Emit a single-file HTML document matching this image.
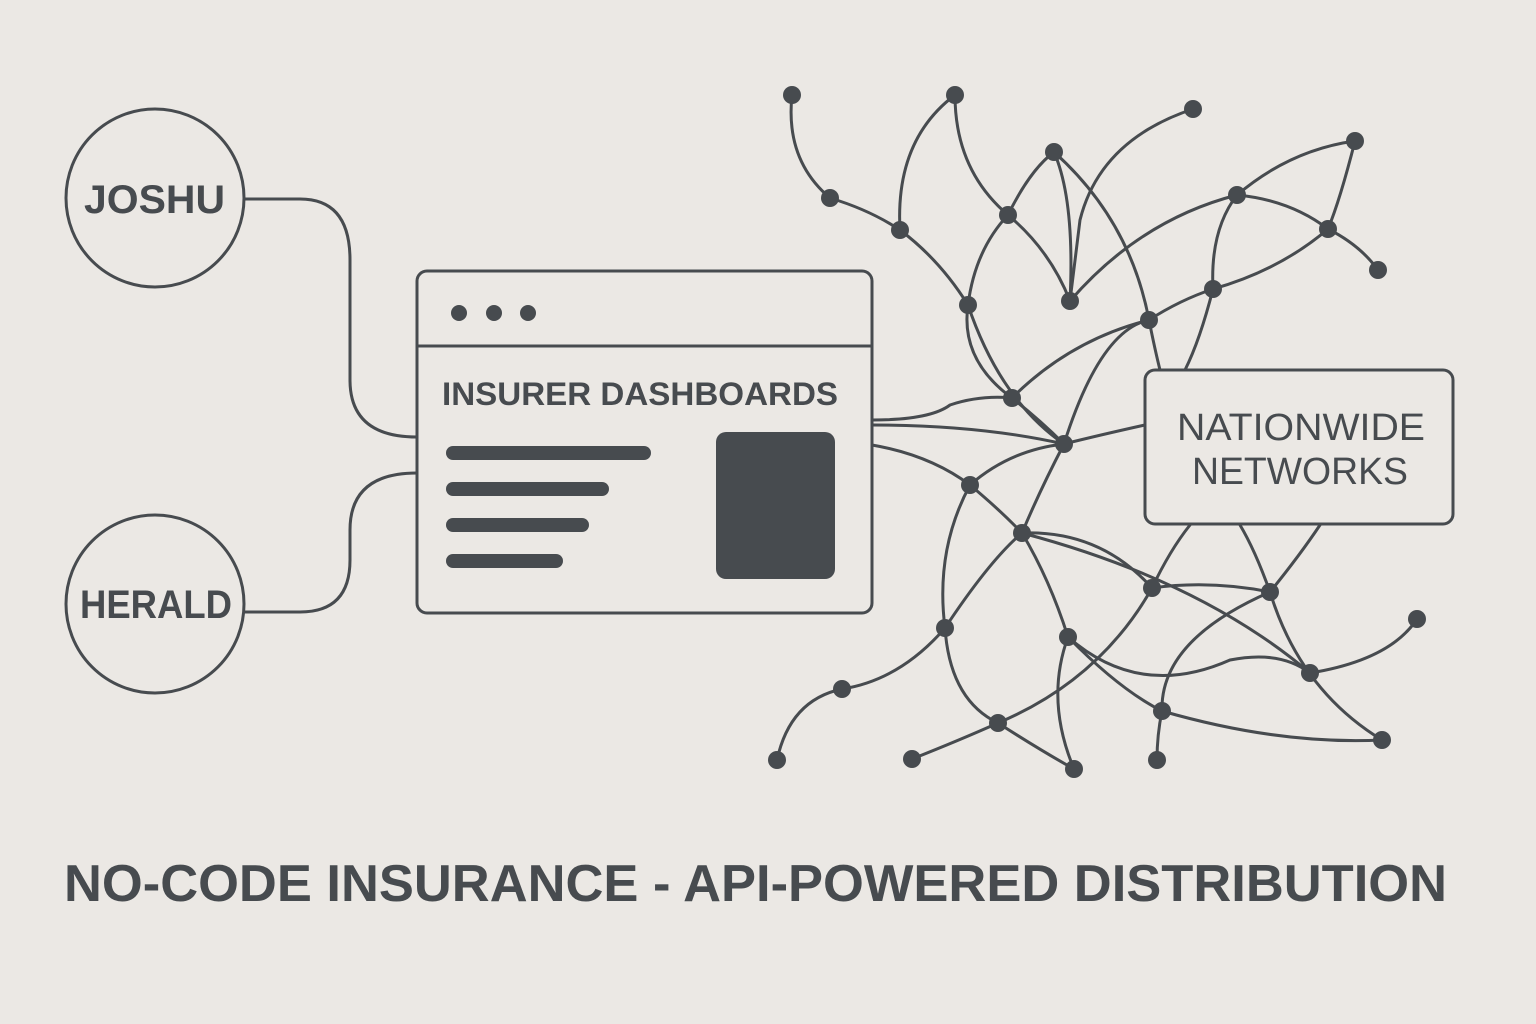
<!DOCTYPE html>
<html><head><meta charset="utf-8"><style>
html,body{margin:0;padding:0;background:#ebe8e4;}
svg{display:block}
text{font-family:"Liberation Sans",sans-serif;fill:#474b4f}
</style></head><body>
<svg width="1536" height="1024" viewBox="0 0 1536 1024" xmlns="http://www.w3.org/2000/svg">
<rect width="1536" height="1024" fill="#ebe8e4"/>
<g fill="none" stroke="#474b4f" stroke-width="3" stroke-linecap="round">
<path d="M244 199 H300 Q350 199 350 260 V380 Q350 437 417 437"/>
<path d="M244 612 H300 Q350 612 350 560 V530 Q350 473 417 473"/>
<circle cx="155" cy="198" r="89"/>
<circle cx="155" cy="604" r="89"/>
<rect x="417" y="271" width="455" height="342" rx="10" fill="#ebe8e4"/>
<line x1="417" y1="346" x2="872" y2="346"/>
<path d="M792 95 Q785 160 830 198"/>
<path d="M830 198 Q870 210 900 230"/>
<path d="M955 95 Q895 140 900 230"/>
<path d="M955 95 Q955 170 1008 215"/>
<path d="M900 230 Q940 260 968 305"/>
<path d="M1008 215 Q1030 170 1054 152"/>
<path d="M1008 215 Q975 250 968 305"/>
<path d="M1054 152 Q1075 200 1070 301"/>
<path d="M1054 152 Q1130 220 1149 320 Q1155 350 1160 370"/>
<path d="M1193 109 Q1100 140 1080 220 Q1075 260 1070 301"/>
<path d="M1008 215 Q1050 250 1070 301"/>
<path d="M1070 301 Q1140 220 1237 195"/>
<path d="M1237 195 Q1290 150 1355 141"/>
<path d="M1237 195 Q1290 200 1328 229 Q1360 245 1378 270"/>
<path d="M1355 141 Q1340 200 1328 229 Q1280 270 1213 289"/>
<path d="M1237 195 Q1210 230 1213 289 Q1200 340 1185 370"/>
<path d="M1149 320 Q1180 300 1213 289"/>
<path d="M968 305 Q960 360 1012 398"/>
<path d="M968 305 Q1000 400 1064 444"/>
<path d="M1012 398 Q1070 340 1149 320"/>
<path d="M1012 398 Q1040 420 1064 444"/>
<path d="M1064 444 Q1100 435 1145 425"/>
<path d="M872 420 Q930 420 950 405 Q980 395 1012 398"/>
<path d="M872 425 Q980 425 1064 444"/>
<path d="M872 445 Q930 455 970 485"/>
<path d="M1064 444 Q1010 450 970 485"/>
<path d="M1064 444 Q1040 490 1022 533"/>
<path d="M970 485 Q1000 510 1022 533"/>
<path d="M1064 444 Q1100 330 1149 320"/>
<path d="M970 485 Q935 550 945 628"/>
<path d="M1022 533 Q1100 530 1152 588"/>
<path d="M1022 533 Q1050 580 1068 637"/>
<path d="M1022 533 Q1200 580 1310 673"/>
<path d="M945 628 Q990 560 1022 533"/>
<path d="M945 628 Q950 700 998 723"/>
<path d="M842 689 Q900 680 945 628"/>
<path d="M842 689 Q790 700 777 760"/>
<path d="M912 759 Q960 740 998 723 Q1100 680 1152 588 Q1170 550 1190 525"/>
<path d="M998 723 Q1040 750 1074 769"/>
<path d="M1068 637 Q1045 700 1074 769"/>
<path d="M1068 637 Q1120 690 1162 711"/>
<path d="M1152 588 Q1210 580 1270 592"/>
<path d="M1270 592 Q1255 550 1240 525"/>
<path d="M1270 592 Q1300 555 1320 525"/>
<path d="M1270 592 Q1300 690 1382 740"/>
<path d="M1162 711 Q1160 640 1270 592"/>
<path d="M1162 711 Q1280 745 1382 740"/>
<path d="M1162 711 Q1157 735 1157 760"/>
<path d="M1310 673 Q1390 660 1417 619"/>
<path d="M1068 637 Q1140 700 1230 660 Q1280 650 1310 673"/>
<rect x="1145" y="370" width="308" height="154" rx="10" fill="#ebe8e4"/>
</g>
<g fill="#474b4f">
<circle cx="459" cy="313" r="8"/><circle cx="494" cy="313" r="8"/><circle cx="528" cy="313" r="8"/>
<rect x="446" y="446" width="205" height="14" rx="7"/>
<rect x="446" y="482" width="163" height="14" rx="7"/>
<rect x="446" y="518" width="143" height="14" rx="7"/>
<rect x="446" y="554" width="117" height="14" rx="7"/>
<rect x="716" y="432" width="119" height="147" rx="10"/>
<circle cx="792" cy="95" r="9"/><circle cx="830" cy="198" r="9"/><circle cx="900" cy="230" r="9"/>
<circle cx="955" cy="95" r="9"/><circle cx="1008" cy="215" r="9"/><circle cx="1054" cy="152" r="9"/>
<circle cx="968" cy="305" r="9"/><circle cx="1070" cy="301" r="9"/><circle cx="1193" cy="109" r="9"/>
<circle cx="1237" cy="195" r="9"/><circle cx="1355" cy="141" r="9"/><circle cx="1328" cy="229" r="9"/>
<circle cx="1378" cy="270" r="9"/><circle cx="1213" cy="289" r="9"/><circle cx="1149" cy="320" r="9"/>
<circle cx="1012" cy="398" r="9"/><circle cx="1064" cy="444" r="9"/><circle cx="970" cy="485" r="9"/>
<circle cx="1022" cy="533" r="9"/><circle cx="945" cy="628" r="9"/><circle cx="1068" cy="637" r="9"/>
<circle cx="1152" cy="588" r="9"/><circle cx="1270" cy="592" r="9"/><circle cx="1310" cy="673" r="9"/>
<circle cx="1417" cy="619" r="9"/><circle cx="1382" cy="740" r="9"/><circle cx="1162" cy="711" r="9"/>
<circle cx="1157" cy="760" r="9"/><circle cx="998" cy="723" r="9"/><circle cx="912" cy="759" r="9"/>
<circle cx="1074" cy="769" r="9"/><circle cx="842" cy="689" r="9"/><circle cx="777" cy="760" r="9"/>
</g>
<text x="84" y="213" font-size="40" font-weight="bold" textLength="141" lengthAdjust="spacingAndGlyphs">JOSHU</text>
<text x="80" y="618" font-size="40" font-weight="bold" textLength="152" lengthAdjust="spacingAndGlyphs">HERALD</text>
<text x="442" y="405" font-size="32" font-weight="bold" textLength="396" lengthAdjust="spacingAndGlyphs">INSURER DASHBOARDS</text>
<text x="1177" y="440" font-size="38" textLength="248" lengthAdjust="spacingAndGlyphs">NATIONWIDE</text>
<text x="1192" y="484" font-size="38" textLength="216" lengthAdjust="spacingAndGlyphs">NETWORKS</text>
<text x="64" y="901" font-size="52" font-weight="bold" textLength="1383" lengthAdjust="spacingAndGlyphs">NO-CODE INSURANCE - API-POWERED DISTRIBUTION</text>
</svg>
</body></html>
